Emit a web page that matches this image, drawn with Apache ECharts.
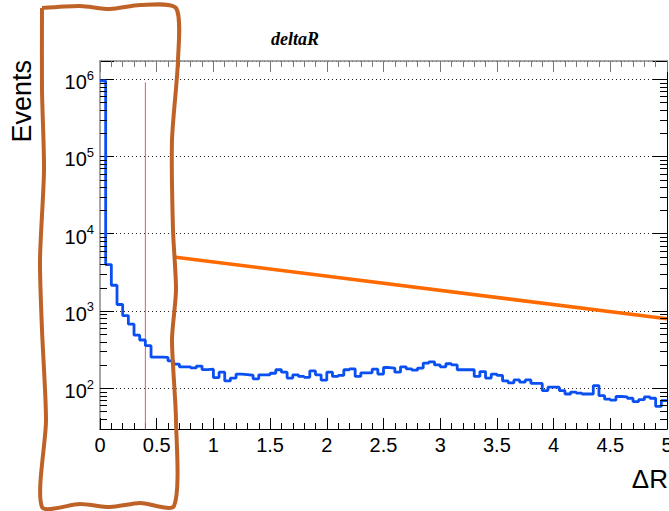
<!DOCTYPE html>
<html>
<head>
<meta charset="utf-8">
<script src="https://cdn.jsdelivr.net/npm/echarts@6/dist/echarts.min.js"></script>
<style>html,body{margin:0;padding:0;background:#fff;}#c{width:669px;height:511px;}</style>
</head>
<body>
<div id="c"></div>
<script>
// ---- data ----
var binWidth = 0.05;
var xStart = 0;
var counts = [
  950000, 3980, 2150, 1210, 871, 673, 485, 420, 355, 252,
  252, 250, 225, 205, 189, 189, 183, 193, 174, 176,
  137, 161, 124, 135, 152, 150, 147, 132, 149, 149,
  156, 173, 161, 135, 149, 142, 138, 167, 149, 127,
  161, 142, 146, 173, 178, 142, 158, 158, 176, 152,
  185, 182, 161, 189, 178, 171, 182, 211, 219, 200,
  189, 207, 200, 173, 173, 173, 142, 164, 135, 152,
  146, 124, 117, 128, 120, 128, 115, 115, 93, 103,
  103, 93, 84, 89, 86, 84, 84, 108, 80, 72,
  70, 78, 77, 74, 67, 71, 77, 74, 58, 69
];
var fitLine = [[0.65, 5000], [5, 790]];
var cutLine = [[0.4, 29.6], [0.4, 910000]];
var yMantissas = [2, 3, 4, 5, 6, 7, 8, 9];
var yDecades = [10, 100, 1000, 10000, 100000];
var yMin = 29.6, yMax = 1720000;
var titleText = 'deltaR';
var xTitle = 'ΔR';
var yTitle = 'Events';

// ---- build ----
var histData = counts.map(function (v, i) { return [xStart + i * binWidth, v]; });
histData.push([xStart + counts.length * binWidth, counts[counts.length - 1]]);
var minorY = [];
yDecades.forEach(function (d) { yMantissas.forEach(function (m) { var v = m * d; if (v >= yMin && v <= yMax) minorY.push([0, v]); }); });

var chart = echarts.init(document.getElementById('c'), null, { renderer: 'svg' });
var FONT = 'Liberation Sans, Arial, Helvetica, sans-serif';

function yLabel(v) {
  var l = Math.log10(v), e = Math.round(l);
  if (Math.abs(l - e) > 1e-6) return '';
  return '{b|10}{s|' + e + '}';
}

var option = {
  animation: false,
  backgroundColor: '#fff',
  grid: { left: 100, right: 2, top: 61, bottom: 82, containLabel: false, outerBoundsMode: 'none' },
  xAxis: [{
    type: 'value', min: 0, max: 5, interval: 0.5, position: 'bottom',
    axisLine: { show: true, onZero: false, lineStyle: { color: '#000', width: 1 } },
    axisTick: { show: true, inside: true, length: 11, lineStyle: { color: '#000' } },
    minorTick: { show: true, splitNumber: 5, length: 6, lineStyle: { color: '#000' } },
    splitLine: { show: false },
    axisLabel: { show: true, fontSize: 20, color: '#000', fontFamily: FONT, margin: 6, showMaxLabel: true, showMinLabel: true, alignMinLabel: 'center', alignMaxLabel: 'center', hideOverlap: false }
  }, {
    type: 'value', min: 0, max: 5, interval: 0.5, position: 'top',
    axisLine: { show: true, onZero: false, lineStyle: { color: '#888', width: 1.5 } },
    axisTick: { show: true, inside: true, length: 11, lineStyle: { color: '#777' } },
    minorTick: { show: true, splitNumber: 5, length: 6, lineStyle: { color: '#777' } },
    splitLine: { show: false },
    axisLabel: { show: false }
  }],
  yAxis: [{
    type: 'log', min: yMin, max: yMax, logBase: 10, splitNumber: 5, position: 'left',
    axisLine: { show: true, onZero: false, lineStyle: { color: '#888', width: 1.5 } },
    axisTick: { show: true, inside: true, length: 14, lineStyle: { color: '#000' } },
    splitLine: { show: true, lineStyle: { color: '#222', width: 1, type: [1, 3] } },
    axisLabel: {
      show: true, margin: 6, formatter: yLabel, color: '#000',
      rich: {
        b: { fontSize: 20, fontFamily: FONT, color: '#000', padding: [6, 0, 0, 0] },
        s: { fontSize: 13, fontFamily: FONT, color: '#000', padding: [0, 0, 8, 0] }
      }
    }
  }, {
    type: 'log', min: yMin, max: yMax, logBase: 10, splitNumber: 5, position: 'right',
    axisLine: { show: true, onZero: false, lineStyle: { color: '#000', width: 1 } },
    axisTick: { show: true, inside: true, length: 14, lineStyle: { color: '#000' } },
    splitLine: { show: false },
    axisLabel: { show: false }
  }],
  series: [{
    type: 'line', name: 'hist', data: histData, step: 'end', symbol: 'none',
    xAxisIndex: 0, yAxisIndex: 0, clip: true,
    lineStyle: { color: '#0a4ff2', width: 2.8 }, z: 3
  }, {
    type: 'line', name: 'cut', data: cutLine, symbol: 'none',
    xAxisIndex: 0, yAxisIndex: 0,
    lineStyle: { color: '#ee5a5a', width: 1 }, z: 2
  }, {
    type: 'line', name: 'fit', data: fitLine, symbol: 'none',
    xAxisIndex: 0, yAxisIndex: 0,
    lineStyle: { color: '#ff6a00', width: 3.6 }, z: 4
  }, {
    type: 'custom', name: 'minorY', data: minorY, xAxisIndex: 0, yAxisIndex: 0,
    encode: { x: 0, y: 1 }, silent: true, z: 5,
    renderItem: function (params, api) {
      var p = api.coord([0, api.value(1)]);
      var cs = params.coordSys;
      var y = Math.round(p[1]) + 0.5;
      return { type: 'group', children: [
        { type: 'line', shape: { x1: cs.x, y1: y, x2: cs.x + 7, y2: y }, style: { stroke: '#000', lineWidth: 1 } },
        { type: 'line', shape: { x1: cs.x + cs.width - 7, y1: y, x2: cs.x + cs.width, y2: y }, style: { stroke: '#000', lineWidth: 1 } }
      ] };
    }
  }],
  graphic: [
    { type: 'text', x: 295, y: 39, z: 10, style: { text: titleText, font: 'italic bold 18px "Liberation Serif", "Times New Roman", serif', fill: '#000', textAlign: 'center', textVerticalAlign: 'middle' } },
    { type: 'text', x: 22, y: 60, rotation: Math.PI / 2, z: 10, style: { text: yTitle, font: '27px ' + FONT, fill: '#000', textAlign: 'right', textVerticalAlign: 'middle' } },
    { type: 'text', x: 668, y: 479, z: 10, style: { text: xTitle, font: '26px ' + FONT, fill: '#000', textAlign: 'right', textVerticalAlign: 'middle' } },
    { type: 'polyline', z: 20, silent: true,
      shape: { smooth: 0.25, points: [
        [42, 8], [80, 6], [110, 9], [140, 5], [176, 8],
        [178, 60], [172, 140], [173, 230], [176, 290], [172, 340], [176, 420], [174, 506],
        [140, 503], [110, 507], [80, 504], [42, 507],
        [46, 420], [42, 330], [40, 260], [44, 170], [42, 90], [42, 8]
      ] },
      style: { stroke: '#bf6228', lineWidth: 4, fill: null, lineJoin: 'round' } }
  ]
};
chart.setOption(option);
</script>
</body>
</html>
